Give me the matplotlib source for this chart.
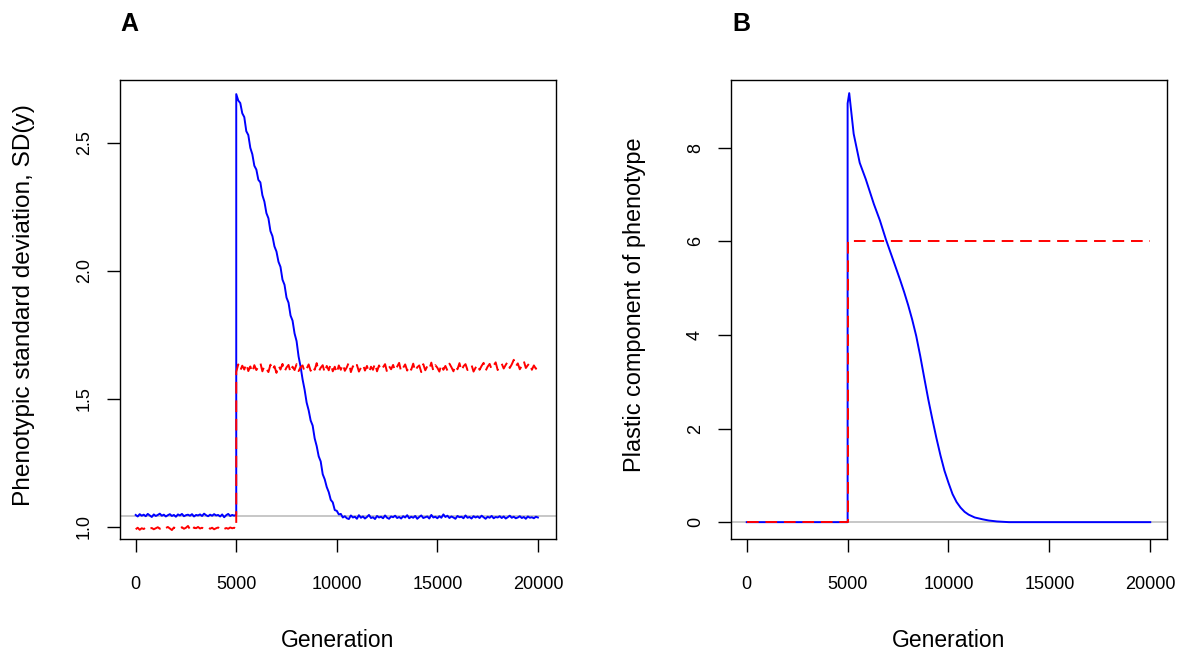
import matplotlib
matplotlib.use("Agg")
import matplotlib.pyplot as plt
import numpy as np

plt.rcParams["font.family"] = ["Liberation Sans", "DejaVu Sans"]

# --- data ----------------------------------------------------------------
# Panel A: phenotypic SD, sampled every 100 generations
gen_pre = np.arange(0, 5001, 100)        # 0 .. 5000
gen_post = np.arange(5000, 20001, 100)   # 5000 .. 20000

sd_blue_pre = [
    1.046, 1.040, 1.049, 1.043, 1.047, 1.041, 1.050, 1.044, 1.038, 1.048,
    1.042, 1.046, 1.051, 1.043, 1.047, 1.040, 1.045, 1.049, 1.042, 1.046,
    1.039, 1.048, 1.044, 1.050, 1.041, 1.045, 1.047, 1.043, 1.049, 1.040,
    1.046, 1.044, 1.048, 1.042, 1.051, 1.045, 1.041, 1.047, 1.043, 1.049,
    1.044, 1.046, 1.040, 1.048, 1.037, 1.045, 1.050, 1.042, 1.046, 1.043,
    1.047,
]
sd_blue_post = [
    2.690, 2.665, 2.655, 2.615, 2.600, 2.545, 2.530, 2.480, 2.455, 2.410,
    2.395, 2.355, 2.345, 2.295, 2.270, 2.225, 2.205, 2.155, 2.135, 2.095,
    2.075, 2.035, 2.015, 1.965, 1.945, 1.895, 1.875, 1.825, 1.805, 1.755,
    1.725, 1.665, 1.625, 1.575, 1.535, 1.485, 1.455, 1.415, 1.395, 1.345,
    1.315, 1.275, 1.255, 1.205, 1.185, 1.155, 1.135, 1.105, 1.095, 1.065,
    1.062, 1.048, 1.050, 1.036,
    1.041, 1.033, 1.030, 1.044, 1.036, 1.039, 1.031, 1.045, 1.035, 1.040,
    1.032, 1.038, 1.046, 1.034, 1.037, 1.030, 1.042, 1.036, 1.039, 1.033,
    1.044, 1.035, 1.031, 1.040, 1.037, 1.043, 1.034, 1.038, 1.032, 1.041,
    1.036, 1.045, 1.033, 1.039, 1.035, 1.042, 1.031, 1.038, 1.044, 1.034,
    1.037, 1.040, 1.032, 1.046, 1.036, 1.039, 1.033, 1.041, 1.035, 1.048,
    1.038, 1.043, 1.034, 1.040, 1.036, 1.031, 1.042, 1.037, 1.039, 1.033,
    1.044, 1.035, 1.038, 1.032, 1.041, 1.036, 1.040, 1.034, 1.043, 1.037,
    1.031, 1.039, 1.035, 1.042, 1.033, 1.038, 1.036, 1.041, 1.034, 1.040,
    1.032, 1.037, 1.043, 1.035, 1.039, 1.033, 1.036, 1.041, 1.034, 1.038,
    1.031, 1.040, 1.035, 1.037, 1.033, 1.039, 1.036,
]
sd_red_pre = [
    0.990, 0.996, 0.988, 0.994, 0.991, 0.997, 0.989, 0.993, 0.995, 0.990,
    0.994, 0.998, 0.992, 0.996, 0.989, 0.995, 0.999, 0.993, 0.987, 0.997,
    0.991, 0.995, 0.993, 0.998, 0.992, 0.996, 1.003, 0.990, 0.982, 0.997,
    0.994, 0.999, 0.993, 0.996, 0.991, 0.995, 0.998, 0.992, 0.996, 0.990,
    0.994, 0.997, 0.993, 0.999, 0.991, 0.995, 0.992, 0.997, 0.994, 0.996,
    0.993,
]
sd_red_post = [
    1.605, 1.634, 1.610, 1.629, 1.614, 1.637, 1.608, 1.626, 1.603, 1.631,
    1.612, 1.624, 1.640, 1.607, 1.628, 1.616, 1.604, 1.633, 1.611, 1.627,
    1.601, 1.630, 1.614, 1.636, 1.606, 1.622, 1.632, 1.603, 1.625, 1.612,
    1.635, 1.608, 1.623, 1.630, 1.605, 1.617, 1.634, 1.609, 1.627, 1.613,
    1.639, 1.606, 1.621, 1.631, 1.602, 1.628, 1.611, 1.636, 1.607, 1.625,
    1.600, 1.630, 1.613, 1.635, 1.609, 1.623, 1.642, 1.604, 1.627, 1.615,
    1.632, 1.606, 1.621, 1.634, 1.610, 1.628, 1.602, 1.625, 1.613, 1.638,
    1.607, 1.630, 1.611, 1.623, 1.635, 1.604, 1.627, 1.615, 1.632, 1.609,
    1.625, 1.640, 1.606, 1.621, 1.634, 1.610, 1.628, 1.613, 1.637, 1.607,
    1.623, 1.630, 1.604, 1.635, 1.611, 1.627, 1.615, 1.641, 1.609, 1.631,
    1.621, 1.606, 1.634, 1.613, 1.628, 1.610, 1.637, 1.623, 1.607, 1.630,
    1.615, 1.639, 1.609, 1.627, 1.635, 1.612, 1.625, 1.632, 1.606, 1.621,
    1.634, 1.613, 1.628, 1.640, 1.609, 1.625, 1.636, 1.615, 1.630, 1.642,
    1.612, 1.627, 1.637, 1.618, 1.632, 1.645, 1.620, 1.634, 1.652, 1.626,
    1.638, 1.615, 1.629, 1.647, 1.620, 1.631, 1.640, 1.613, 1.630, 1.617,
    1.624,
]
sd_ref = 1.042  # grey reference line

# Panel B: plastic component
gen_b = [0, 5000, 5000, 5080, 5300, 5600, 5900, 6300, 6600, 6900, 7300,
         7600, 7800, 8000, 8200, 8400, 8600, 8800, 9000, 9200, 9400, 9600,
         9800, 10000, 10200, 10400, 10600, 10800, 11000, 11300, 11700,
         12000, 12400, 13000, 20000]
plastic_blue = [0, 0, 8.95, 9.17, 8.30, 7.68, 7.33, 6.80, 6.45, 6.04, 5.55,
                5.18, 4.92, 4.64, 4.33, 3.98, 3.55, 3.08, 2.62, 2.20, 1.80,
                1.43, 1.10, 0.84, 0.60, 0.43, 0.31, 0.22, 0.16, 0.10, 0.06,
                0.035, 0.015, 0.0, 0.0]
gen_b_red = [0, 5000, 5000, 20000]
plastic_red = [0, 0, 6, 6]
plastic_ref = 0.0

BLUE = "#0000FF"
RED = "#FF0000"
GREY = "#BEBEBE"
LW = 1.4
DASH = (0, (6, 3.5))

fig = plt.figure(figsize=(11.84, 6.57), dpi=100)
axA = fig.add_axes([120 / 1184, 1 - 539 / 657, 436 / 1184, 459 / 657])
axB = fig.add_axes([731 / 1184, 1 - 539 / 657, 436 / 1184, 459 / 657])

# --- panel A -------------------------------------------------------------
axA.axhline(sd_ref, color=GREY, lw=1.2, zorder=1)
axA.plot(np.concatenate([gen_pre, gen_post]), sd_blue_pre + sd_blue_post,
         color=BLUE, lw=LW, zorder=2)
axA.plot(np.concatenate([gen_pre, gen_post]), sd_red_pre + sd_red_post,
         color=RED, lw=LW, ls=DASH, zorder=3)
axA.set_xlim(-780, 20900)
axA.set_ylim(0.952, 2.745)
axA.set_yticks([1.0, 1.5, 2.0, 2.5])
axA.set_ylabel("Phenotypic standard deviation, SD(y)", fontsize=17.6)

# --- panel B -------------------------------------------------------------
axB.axhline(plastic_ref, color=GREY, lw=1.2, zorder=1)
axB.plot(gen_b, plastic_blue, color=BLUE, lw=LW, zorder=2)
axB.plot(gen_b_red, plastic_red, color=RED, lw=LW, ls=DASH, zorder=3)
axB.set_xlim(-780, 20830)
axB.set_ylim(-0.36, 9.45)
axB.set_yticks([0, 2, 4, 6, 8])
axB.set_ylabel("Plastic component of phenotype", fontsize=16.9)

for ax in (axA, axB):
    ax.set_xticks([0, 5000, 10000, 15000, 20000])
    ax.set_xlabel("Generation", fontsize=16.5)
    ax.xaxis.set_label_coords(0.5, -0.195)
    ax.yaxis.set_label_coords(-0.195, 0.51)
    for s in ax.spines.values():
        s.set_linewidth(1.0)
    ax.tick_params(axis="both", direction="out", length=9.5, width=1.0,
                   labelsize=13)
    ax.tick_params(axis="x", pad=17)
    ax.tick_params(axis="y", pad=10)
    for lab in ax.get_yticklabels():
        lab.set_rotation(90)
        lab.set_va("center")

fig.text(120 / 1184, 1 - 31 / 657, "A", fontsize=18, fontweight="bold",
         ha="left", va="baseline")
fig.text(732 / 1184, 1 - 31 / 657, "B", fontsize=18, fontweight="bold",
         ha="left", va="baseline")

fig.savefig("out.png", dpi=100)
